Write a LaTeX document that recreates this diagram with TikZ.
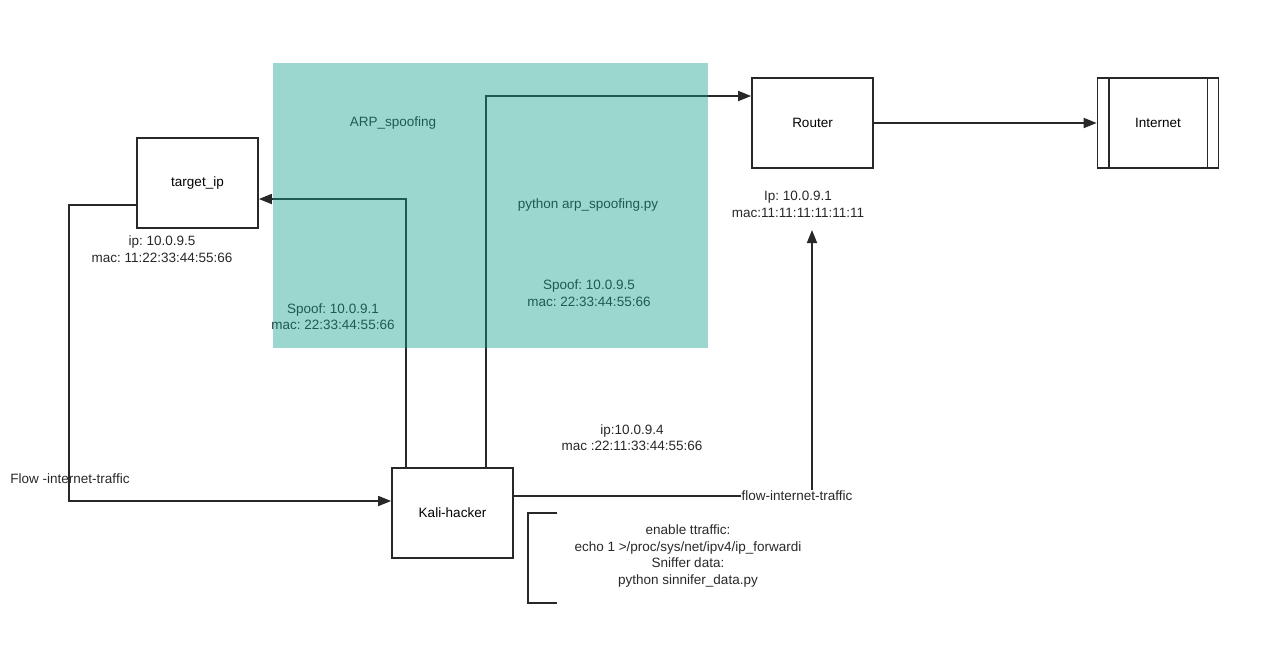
\documentclass[tikz,border=0pt]{standalone}
\usepackage{fontspec}
\setmainfont{Liberation Sans}
\usepackage{xcolor}
\usetikzlibrary{arrows.meta,positioning,calc}
\definecolor{spoofteal}{RGB}{20,160,140}
\definecolor{inkgray}{RGB}{40,40,40}
\tikzset{
  hostbox/.style={draw=inkgray, rectangle, line width=1.7pt, minimum width=121pt, minimum height=90pt, align=center, inner sep=0pt},
  info/.style={align=center, text=inkgray, inner sep=1pt},
  arr/.style={-{Triangle[length=13pt,width=10pt]}, line width=1.7pt, draw=inkgray},
  link/.style={line width=1.7pt, draw=inkgray}
}
\frenchspacing

\begin{document}
\begin{tikzpicture}[x=1pt,y=-1pt,font=\fontsize{13.5}{16.5}\selectfont]
\useasboundingbox (0,0) rectangle (1263,654);

\node[hostbox] (target) at (197.5,183) {target\_ip};
\node[hostbox] (router) at (812.5,123) {Router};
\node[hostbox] (internet) at (1158,123) {Internet};
\node[hostbox] (kali) at (452.5,513) {Kali-hacker};

\draw[link] ([xshift=12]internet.north west) -- ([xshift=12]internet.south west);
\draw[link] ([xshift=-12]internet.north east) -- ([xshift=-12]internet.south east);

\node[info] (targetinfo) at (162,249) {ip: 10.0.9.5\\mac: 11:22:33:44:55:66};
\node[info] (routerinfo) at (798,204.5) {Ip: 10.0.9.1\\mac:11:11:11:11:11:11};
\node[info] (kaliinfo) at (632,437.5) {ip:10.0.9.4\\mac :22:11:33:44:55:66};
\node[info] (arplabel) at (393,123) {ARP\_spoofing};
\node[info] (pyspoof) at (588,205) {python arp\_spoofing.py};
\node[info] (spoofrouter) at (589,293) {Spoof: 10.0.9.5\\mac: 22:33:44:55:66};
\node[info] (spooftarget) at (333,316.5) {Spoof: 10.0.9.1\\mac: 22:33:44:55:66};
\node[info] (cmds) at (688,556) {enable ttraffic:\\echo 1 >/proc/sys/net/ipv4/ip\_forwardi\\Sniffer data:\\python sinnifer\_data.py};

\coordinate (rtin) at (812,230);

\draw[arr] ([xshift=-46.5]kali.north) |- ([yshift=-16]target.east);
\draw[arr] ([xshift=33.5]kali.north) |- ([yshift=27]router.west);
\draw[arr] (router.east) -- (internet.west);
\draw[arr] ([yshift=-22]target.west) -- ++(-67,0) |- ([yshift=12]kali.west);
\draw[arr] ([yshift=17]kali.east) -| (rtin);

\node[info, fill=white] (flowright) at (797,496) {flow-internet-traffic};
\node[info] (flowleft) at (70,479) {Flow -internet-traffic};

% bracket next to the commands
\draw[link] (557,513) -- (528,513) -- (528,603) -- (557,603);

% spoofing area on top
\fill[spoofteal, fill opacity=0.42] (273,63) rectangle (708,348);
\end{tikzpicture}
\end{document}
